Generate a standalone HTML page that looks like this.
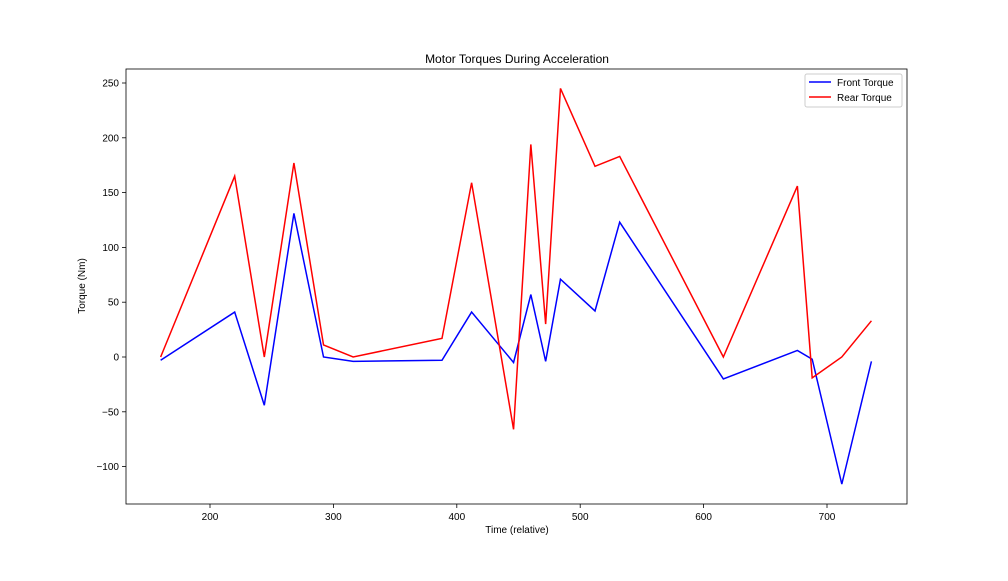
<!DOCTYPE html>
<html><head><meta charset="utf-8"><style>
body{margin:0;background:#fff;font-family:"Liberation Sans","DejaVu Sans",sans-serif;}
svg text{font-family:"Liberation Sans","DejaVu Sans",sans-serif;}
</style></head><body>
<svg id="chart" width="1008" height="576" viewBox="0 0 1008 576"></svg>
<script>
const times=[160,220,244,268,292,316,388,412,446,460,472,484,512,532,616,676,688,712,736];
const frontTorque=[-3,41,-44,131,0,-4,-3,41,-5,57,-4,71,42,123,-20,6,-2,-116,-4];
const rearTorque=[0,165,0,177,11,0,17,159,-66,194,30,245,174,183,0,156,-19,0,33];
const xTicks=[200,300,400,500,600,700];
const yTicks=[-100,-50,0,50,100,150,200,250];
const L=126,R=907,T=69,B=504;
const xs=v=>210+(v-200)*1.234;
const ys=v=>357-v*1.096;
const svg=document.getElementById('chart');
const NS='http://www.w3.org/2000/svg';
function mk(tag,attrs,parent){const e=document.createElementNS(NS,tag);for(const k in attrs)e.setAttribute(k,attrs[k]);(parent||svg).appendChild(e);return e;}
let t=mk('text',{x:517,y:63,'text-anchor':'middle','font-size':12});t.textContent='Motor Torques During Acceleration';


xTicks.forEach(v=>{const x=xs(v);mk('line',{x1:x,x2:x,y1:B,y2:B+4,stroke:'#000','stroke-width':0.8});const tx=mk('text',{x:x,y:B+16,'text-anchor':'middle','font-size':10});tx.textContent=v;

});
yTicks.forEach(v=>{const y=ys(v);mk('line',{x1:L-4,x2:L,y1:y,y2:y,stroke:'#000','stroke-width':0.8});const tx=mk('text',{x:L-7,y:y+3.5,'text-anchor':'end','font-size':10});tx.textContent=(v<0?'\u2212'+(-v):v);

});
let xl=mk('text',{x:517,y:533,'text-anchor':'middle','font-size':10});xl.textContent='Time (relative)';


let yl=mk('text',{x:0,y:0,'text-anchor':'middle','font-size':10,transform:'translate(85,286) rotate(-90)'});yl.textContent='Torque (Nm)';


function line(vals,color,name){const p=mk('polyline',{points:times.map((tv,i)=>xs(tv)+','+ys(vals[i])).join(' '),fill:'none',stroke:color,'stroke-width':1.5});

}
line(frontTorque,'#0000ff','front-torque-line');
line(rearTorque,'#ff0000','rear-torque-line');
let fr=mk('rect',{x:L,y:T,width:R-L,height:B-T,fill:'none',stroke:'#000','stroke-width':0.8});


const g=mk('g',{});


mk('rect',{x:805,y:74,width:97,height:33,fill:'#fff',stroke:'#ccc',rx:2},g);
[['Front Torque','#0000ff',86],['Rear Torque','#ff0000',101]].forEach(([n,c,y])=>{mk('line',{x1:809,x2:831,y1:y-4,y2:y-4,stroke:c,'stroke-width':1.5},g);const tx=mk('text',{x:837,y:y,'font-size':10},g);tx.textContent=n;

});
</script>
</body></html>
